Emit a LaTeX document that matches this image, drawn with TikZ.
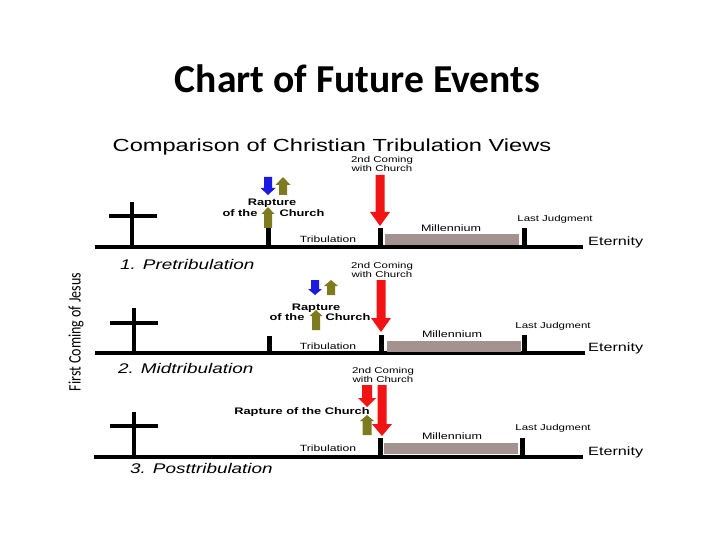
\documentclass[tikz,border=0pt]{standalone}
\usepackage{fontspec}
\newfontfamily\arial{Liberation Sans}
\newfontfamily\calib{Carlito}
\definecolor{arrred}{HTML}{F21414}
\definecolor{arrblue}{HTML}{1A1AE0}
\definecolor{arrolive}{HTML}{7E7A1E}
\definecolor{barcol}{HTML}{A39290}
\newcommand\sx[1]{\scalebox{1.35}[1]{#1}}
\newcommand\twol[2]{\sx{\begin{tabular}{@{}c@{}}#1\\#2\end{tabular}}}
% block arrow: colour, x, y tail, y head base, y tip, shaft half width, head half width
\newcommand\barrow[7]{\fill[#1] ({#2-#6},#3) -- ({#2+#6},#3) -- ({#2+#6},#4) -- ({#2+#7},#4) -- (#2,#5) -- ({#2-#7},#4) -- ({#2-#6},#4) -- cycle;}
\begin{document}
\begin{tikzpicture}[x=1pt,y=-1pt,
  every node/.style={inner sep=0pt},
  small/.style={font=\arial\fontsize{8.5}{8.5}\selectfont},
  lbl/.style={font=\arial\fontsize{9}{9}\selectfont},
  mil/.style={font=\arial\fontsize{9.3}{9.3}\selectfont},
  rap/.style={font=\arial\bfseries\fontsize{9.5}{9.5}\selectfont},
  eter/.style={font=\arial\fontsize{12}{12}\selectfont, anchor=west},
  view/.style={font=\arial\itshape\fontsize{14}{14}\selectfont, anchor=west},
  baseline/.style={line width=4pt},
  tickl/.style={line width=5pt},
  crossl/.style={line width=4.5pt},
  bar/.style={fill=barcol}]
\useasboundingbox[fill=white] (0,0) rectangle (720,540);

% titles
\node[font=\calib\bfseries\fontsize{39.6}{39.6}\selectfont, anchor=base] (title) at (357.5,93) {Chart of Future Events};
\node[font=\arial\fontsize{17.5}{17.5}\selectfont, anchor=base] (sub) at (332,152) {\sx{Comparison of Christian Tribulation Views}};
\node[rotate=90, font=\calib\fontsize{14}{14}\selectfont] (side) at (76,332) {\scalebox{1}[1.25]{First Coming of Jesus}};

% ---------- Panel 1 ----------
\draw[baseline] (95,247) -- (583,247);
\draw[crossl] (132,202) -- (132,247);
\draw[crossl] (109,216) -- (157,216);
\draw[tickl] (268,228) -- (268,247);
\draw[tickl] (380,228) -- (380,247);
\draw[tickl] (524,228) -- (524,247);
\fill[barcol] (385,234) rectangle (519,245);
\barrow{arrred}{380}{175}{212}{226}{4.5}{10}
\barrow{arrblue}{268}{177}{188}{195}{4}{7.5}
\barrow{arrolive}{283}{195}{185}{177}{4}{7.5}
\barrow{arrolive}{268}{228}{214}{207}{4}{6.5}
\node[small] (sc1) at (382,165) {\twol{2nd Coming}{with Church}};
\node[rap] (rap1) at (272,203) {\sx{Rapture}};
\node[rap] (oft1) at (240,213) {\sx{of the}};
\node[rap] (ch1) at (302,213) {\sx{Church}};
\node[lbl] (tr1) at (328,239) {\sx{Tribulation}};
\node[mil] (mi1) at (451,228) {\sx{Millennium}};
\node[small] (lj1) at (555,219) {\sx{Last Judgment}};
\node[eter] (et1) at (588,242) {\sx{Eternity}};
\node[view] (v1) at (120,264) {\sx{1. Pretribulation}};

% ---------- Panel 2 ----------
\draw[baseline] (95,353) -- (585,353);
\draw[crossl] (134,308) -- (134,353);
\draw[crossl] (110,323) -- (158,323);
\draw[tickl] (269,336) -- (269,353);
\draw[tickl] (381,335) -- (381,353);
\draw[tickl] (524,335) -- (524,353);
\fill[barcol] (387,341) rectangle (521,352);
\barrow{arrred}{381}{280}{318}{332}{4.5}{10}
\barrow{arrblue}{315}{280}{289}{295}{4}{7}
\barrow{arrolive}{331}{295}{286}{280}{4}{7}
\barrow{arrolive}{316}{330}{316}{310}{4}{6.5}
\node[small] (sc2) at (382,271) {\twol{2nd Coming}{with Church}};
\node[rap] (rap2) at (316,308) {\sx{Rapture}};
\node[rap] (oft2) at (287,317) {\sx{of the}};
\node[rap] (ch2) at (348,317) {\sx{Church}};
\node[lbl] (tr2) at (328,346) {\sx{Tribulation}};
\node[mil] (mi2) at (452,334) {\sx{Millennium}};
\node[small] (lj2) at (553,326) {\sx{Last Judgment}};
\node[eter] (et2) at (588,348) {\sx{Eternity}};
\node[view] (v2) at (118,368) {\sx{2. Midtribulation}};

% ---------- Panel 3 ----------
\draw[baseline] (94,457) -- (583,457);
\draw[crossl] (134,412) -- (134,457);
\draw[crossl] (110,426) -- (158,426);
\draw[tickl] (380,438) -- (380,457);
\draw[tickl] (522,438) -- (522,457);
\fill[barcol] (384,443) rectangle (518,454);
\barrow{arrred}{382}{385}{424}{436}{4.5}{10}
\barrow{arrred}{367}{385}{398}{407}{5}{9}
\barrow{arrolive}{367}{435}{421}{415}{4.5}{7}
\node[small] (sc3) at (383,376) {\twol{2nd Coming}{with Church}};
\node[rap] (rap3) at (302,412) {\sx{Rapture of the Church}};
\node[lbl] (tr3) at (328,448) {\sx{Tribulation}};
\node[mil] (mi3) at (452,436) {\sx{Millennium}};
\node[small] (lj3) at (553,428) {\sx{Last Judgment}};
\node[eter] (et3) at (588,452) {\sx{Eternity}};
\node[view] (v3) at (130,468) {\sx{3. Posttribulation}};
\end{tikzpicture}
\end{document}
